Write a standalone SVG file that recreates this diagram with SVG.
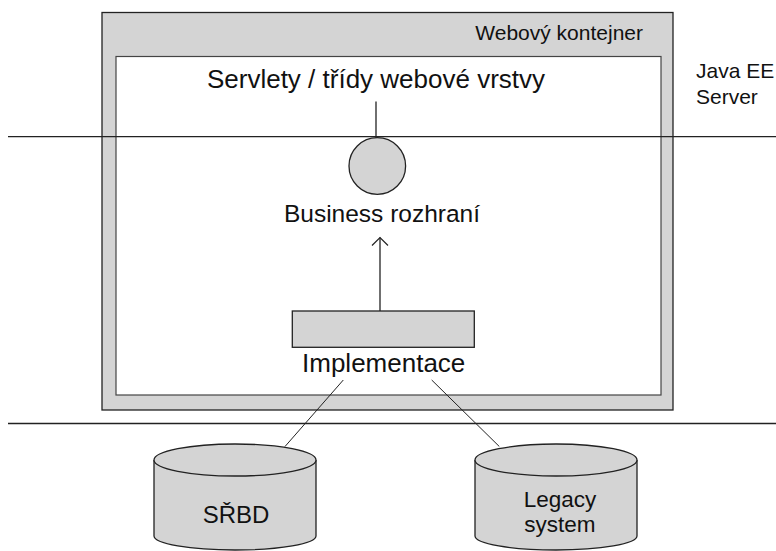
<svg xmlns="http://www.w3.org/2000/svg" width="776" height="551" viewBox="0 0 776 551">
<style>
  text { font-family: "Liberation Sans", Arial, sans-serif; fill: #111; }
  .big { font-size: 26px; }
  .small { font-size: 21px; }
  .db { font-size: 24px; }
  .db2 { font-size: 22.5px; }
  .shape { fill: #d4d4d4; stroke: #222; stroke-width: 1.3; }
  .line { stroke: #222; stroke-width: 1.3; fill: none; }
  .thin { stroke: #222; stroke-width: 1; fill: none; }
</style>
<defs>
  <marker id="open" viewBox="0 0 20 20" refX="10" refY="10" markerWidth="20" markerHeight="20" markerUnits="userSpaceOnUse" orient="auto">
    <path d="M2,2 L10,10 L2,18" fill="none" stroke="#222" stroke-width="1.2"/>
  </marker>
</defs>
<rect width="776" height="551" fill="#fff"/>

<g id="web-container">
  <rect x="102" y="12.5" width="571" height="397.5" class="shape"/>
  <rect x="116" y="56.5" width="545" height="338.5" fill="#fff" stroke="#444" stroke-width="1.2"/>
  <text x="643" y="40" class="small" text-anchor="end">Webový kontejner</text>
</g>

<g id="layers">
  <line x1="8" y1="136.7" x2="776" y2="136.7" class="line"/>
  <line x1="8" y1="423.5" x2="776" y2="423.5" class="line"/>
</g>

<g id="java-ee-server">
  <text x="696" y="78" class="small">Java EE</text>
  <text x="696" y="104" class="small">Server</text>
</g>

<g id="servlets">
  <text x="376" y="88" class="big" text-anchor="middle" font-size="25.5">Servlety / třídy webové vrstvy</text>
</g>

<g id="business-interface">
  <circle cx="377.3" cy="166" r="28.3" class="shape" stroke-width="1"/>
  <text x="382" y="222" class="big" text-anchor="middle" style="font-size:24.5px">Business rozhraní</text>
</g>

<g id="implementation">
  <rect x="292.3" y="311" width="182" height="36.3" class="shape"/>
  <text x="383.7" y="371.7" class="big" text-anchor="middle">Implementace</text>
</g>

<g id="srbd">
  <path d="M154,460 L154,536 A81,14 0 0 0 316,536 L316,460" class="shape"/>
  <ellipse cx="235" cy="460" rx="81" ry="16" class="shape"/>
  <text x="236" y="522.7" class="db" text-anchor="middle">SŘBD</text>
</g>

<g id="legacy">
  <path d="M475,460 L475,536 A81,14 0 0 0 637,536 L637,460" class="shape"/>
  <ellipse cx="556" cy="460" rx="81" ry="16" class="shape"/>
  <text x="560" y="507" class="db2" text-anchor="middle">Legacy</text>
  <text x="560" y="532" class="db2" text-anchor="middle">system</text>
</g>

<g id="connectors">
  <line x1="376" y1="101.5" x2="376" y2="137.7" class="line"/>
  <line x1="380" y1="311" x2="380" y2="237.5" class="line" marker-end="url(#open)"/>
  <line x1="343.3" y1="380" x2="285" y2="446.5" class="thin"/>
  <line x1="431.7" y1="380" x2="499.3" y2="446.5" class="thin"/>
</g>
</svg>
